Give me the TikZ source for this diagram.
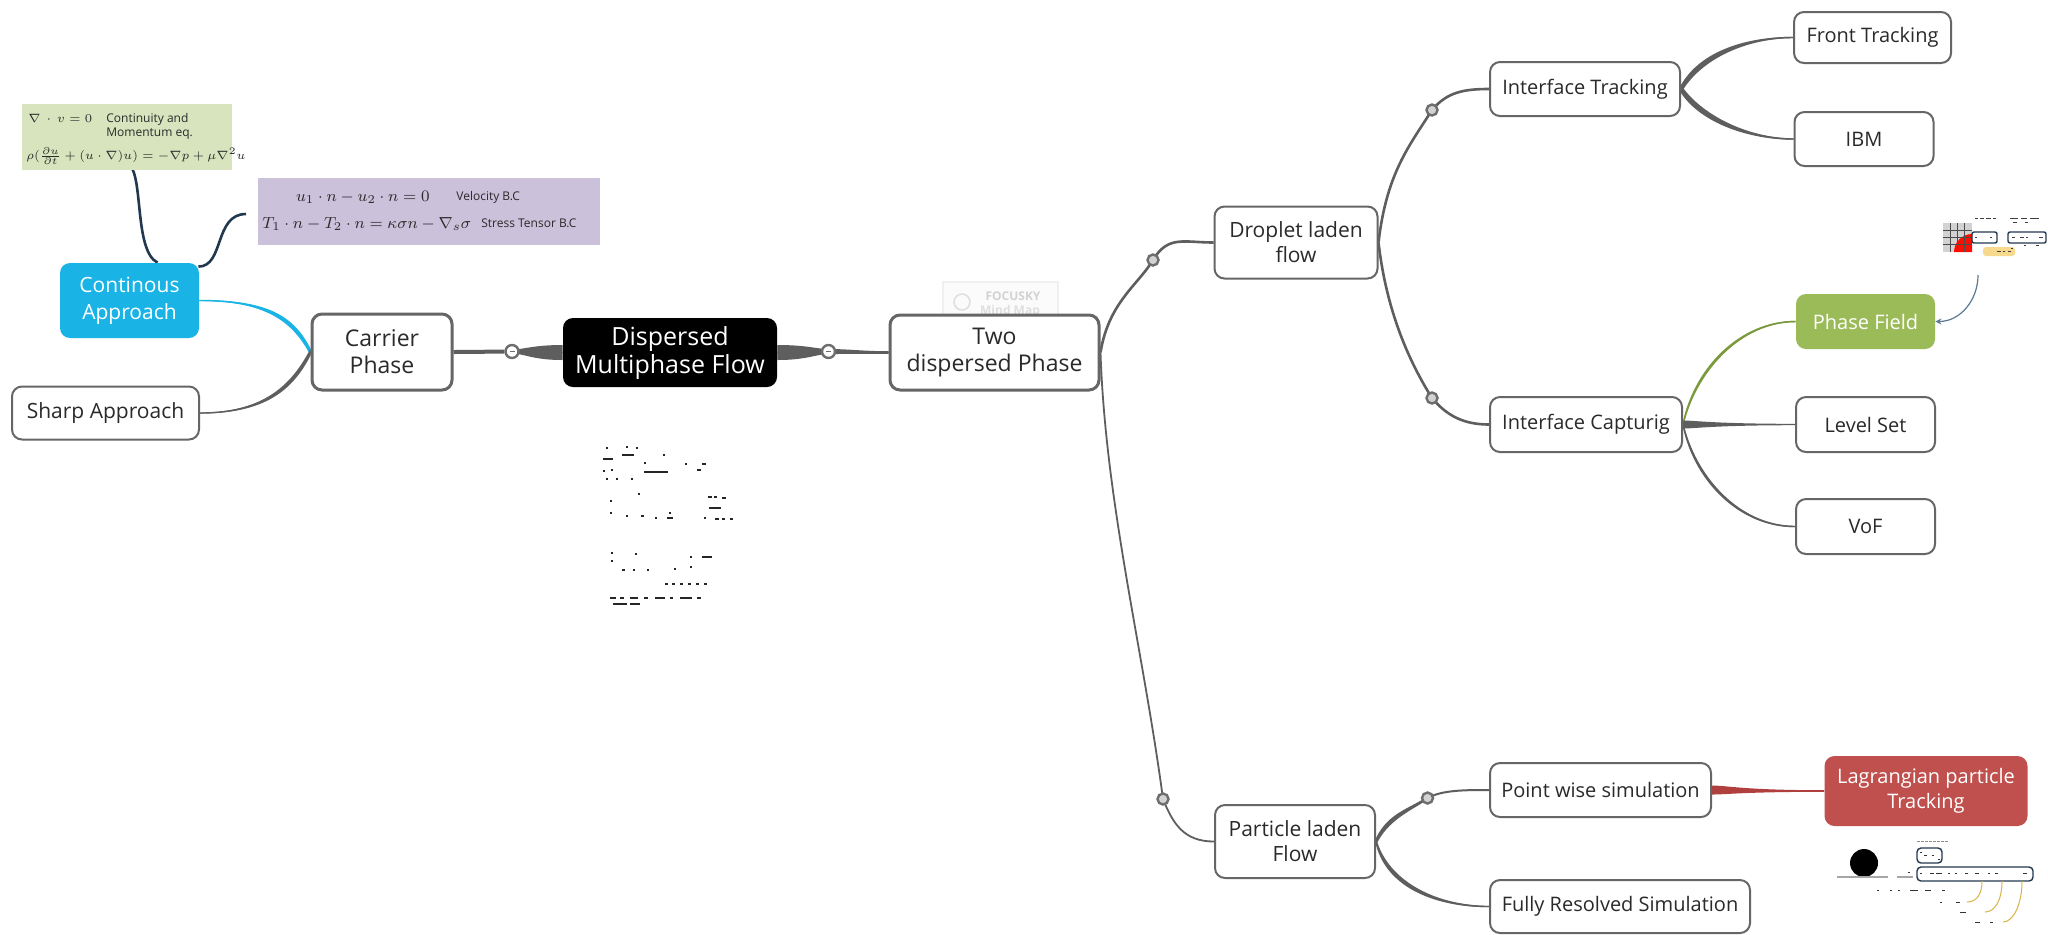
\documentclass[tikz,border=0pt]{standalone}
\usepackage{fontspec}
\setmainfont{Open Sans}
\usetikzlibrary{calc,arrows.meta}
\pgfdeclarelayer{bg}
\pgfsetlayers{bg,main}
\definecolor{ln}{HTML}{5E5E5E}
\definecolor{bd}{HTML}{666666}
\definecolor{knobc}{HTML}{6E6E6E}
\definecolor{cyanC}{HTML}{19B3E6}
\definecolor{greenC}{HTML}{9BBB59}
\definecolor{greenL}{HTML}{7A9A3C}
\definecolor{redC}{HTML}{C0504D}
\definecolor{redL}{HTML}{B0403E}
\definecolor{eqG}{HTML}{D7E4BD}
\definecolor{eqP}{HTML}{CCC1DA}
\definecolor{navy}{HTML}{22384F}
\definecolor{slate}{HTML}{5C7A92}
\definecolor{txt}{HTML}{2A2A2A}
\definecolor{gold}{HTML}{D9B44A}
\definecolor{paleY}{HTML}{F6D98C}
% tapered connector: #1 colour, #2 start, #3 offset of 1st control, #4 offset of 2nd control, #5 end, #6/#7 half widths
\newcommand{\tapr}[7]{%
  \fill[#1] ($#2+(0,#6)$) .. controls ($#2+#3+(0,#6)$) and ($#5+#4+(0,#7)$) .. ($#5+(0,#7)$)
     -- ($#5+(0,-#7)$) .. controls ($#5+#4+(0,-#7)$) and ($#2+#3+(0,-#6)$) .. ($#2+(0,-#6)$) -- cycle;
  \draw[#1, line width=0.7pt] #2 .. controls ($#2+#3$) and ($#5+#4$) .. #5;}
\tikzset{
  wbox/.style={draw=bd, line width=1pt, rounded corners=5pt, fill=white, text=txt, align=center,
    inner sep=1pt, font=\fontsize{10}{12}\selectfont},
  lbox/.style={wbox, font=\fontsize{10.5}{12.5}\selectfont},
  bbox/.style={wbox, line width=1.5pt, font=\fontsize{11.5}{13.5}\selectfont},
  cbox/.style={rounded corners=5pt, text=white, align=center, inner sep=1pt},
  knob/.style={circle, draw=knobc, fill=gray!35, line width=1.2pt, inner sep=0pt, minimum size=5.5pt},
  bigknob/.style={knob, minimum size=6.5pt, fill=white},
  conn/.style={draw=ln, line width=1.3pt},
  note/.style={draw=navy, line width=1.3pt},
  eqtxt/.style={inner sep=0pt, text=txt, font=\fontsize{8}{9}\selectfont},
  eqsm/.style={inner sep=0pt, text=txt, font=\fontsize{6}{7}\selectfont},
  eqlbl/.style={inner sep=0pt, text=txt, font=\fontsize{6}{7}\selectfont, align=left},
}
\begin{document}
\begin{tikzpicture}[x=0.5pt, y=-0.5pt]
\useasboundingbox (0,0) rectangle (2048,934);
\begin{pgfonlayer}{bg}
\fill[white] (0,0) rectangle (2048,934);
\end{pgfonlayer}

% ---------- watermark ----------
\draw[gray!12, fill=gray!3, line width=0.6pt] (943,282) rectangle (1058,324);
\draw[gray!25, line width=0.8pt] (962,302) circle[radius=8];
\node[inner sep=0pt, text=gray!35, font=\bfseries\fontsize{6}{7}\selectfont] at (1013,296) {FOCUSKY};
\node[inner sep=0pt, text=gray!25, font=\bfseries\fontsize{6}{7}\selectfont] at (1010,311) {Mind Map};

% ---------- equation notes ----------
\node[fill=eqG, inner sep=0pt, minimum width=105pt, minimum height=33pt] (eqg) at (127,137) {};
\node[eqsm, anchor=west] (eq1) at (28,118) {$\nabla\mkern3mu\cdot\mkern3mu v=0$};
\node[eqlbl, anchor=west] (eq1l) at (106,126) {Continuity and\\Momentum eq.};
\node[eqsm, anchor=west] (eq2) at (26,156) {$\rho(\frac{\partial u}{\partial t}+(u\cdot\nabla)u)=-\nabla p+\mu\nabla^2 u$};

\node[fill=eqP, inner sep=0pt, minimum width=171pt, minimum height=33.5pt] (eqp) at (429,211.5) {};
\node[eqtxt, anchor=east] (bc1) at (430,197) {$u_1\cdot n-u_2\cdot n=0$};
\node[eqlbl, anchor=west] (bc1l) at (456,197) {Velocity B.C};
\node[eqtxt, anchor=west] (bc2) at (262,224) {$T_1\cdot n-T_2\cdot n=\kappa\sigma n-\nabla_s\sigma$};
\node[eqlbl, anchor=west] (bc2l) at (481,223) {Stress Tensor B.C};

% ---------- nodes ----------
\node[cbox, fill=cyanC, minimum width=69.5pt, minimum height=37.5pt, font=\fontsize{10.5}{13.5}\selectfont] (ca) at (129.5,300.5) {Continous\\Approach};
\node[lbox, minimum width=93.5pt, minimum height=26.5pt] (sa) at (105.5,413) {Sharp Approach};
\node[bbox, minimum width=70pt, minimum height=38pt] (cp) at (382,352) {Carrier\\Phase};
\node[cbox, fill=black, minimum width=107pt, minimum height=34.5pt, font=\fontsize{12.5}{14}\selectfont] (dm) at (670,352.5) {Dispersed\\Multiphase Flow};
\node[bbox, minimum width=104.5pt, minimum height=37.5pt] (td) at (994.5,352.5) {Two\\dispersed Phase};
\node[lbox, minimum width=81.5pt, minimum height=36pt] (dl) at (1296,242.5) {Droplet laden\\flow};
\node[wbox, minimum width=95pt, minimum height=27pt] (it) at (1585,89) {Interface Tracking};
\node[wbox, minimum width=96pt, minimum height=27.5pt] (ic) at (1586,424.5) {Interface Capturig};
\node[wbox, minimum width=78.5pt, minimum height=25.5pt] (ft) at (1872.5,37.5) {Front Tracking};
\node[wbox, minimum width=69.5pt, minimum height=27pt] (ib) at (1864,139) {IBM};
\node[cbox, fill=greenC, minimum width=69.5pt, minimum height=27.5pt, font=\fontsize{10}{12}\selectfont] (pf) at (1865.5,321.5) {Phase Field};
\node[wbox, minimum width=69.5pt, minimum height=27.5pt] (ls) at (1865.5,424.5) {Level Set};
\node[wbox, minimum width=69.5pt, minimum height=27.5pt] (vf) at (1865.5,526.5) {VoF};
\node[lbox, minimum width=80pt, minimum height=36.5pt] (pl) at (1295,841.5) {Particle laden\\Flow};
\node[wbox, minimum width=110.5pt, minimum height=27pt] (pw) at (1600.5,790) {Point wise simulation};
\node[wbox, minimum width=130pt, minimum height=26.5pt] (fr) at (1620,906.5) {Fully Resolved Simulation};
\node[cbox, fill=redC, minimum width=101.5pt, minimum height=35pt, font=\fontsize{10}{12.5}\selectfont] (lg) at (1926,791) {Lagrangian particle\\Tracking};

% collapse knobs
\node[bigknob] (m1) at (512,351.5) {};
\node[bigknob] (m2) at (828.5,351.5) {};
\node[knob] (c1) at (1153,260) {};
\node[knob] (c2) at (1163,799) {};
\node[knob] (c3) at (1432,110) {};
\node[knob] (c4) at (1432,398) {};
\node[knob] (c5) at (1427.5,798) {};
\foreach \k in {m1,m2} \draw[knobc, line width=0.5pt] ($(\k)+(-2.5,0)$) -- ($(\k)+(2.5,0)$);

% free ends of the note connectors and picture thumbnails
\coordinate (eqend) at (128,164);
\coordinate (bcend) at (246,214);
\coordinate (pfimg) at (1978,275);

% ---------- connectors ----------
\begin{pgfonlayer}{bg}
\draw[ln, line width=2pt] (cp.east) -- (m1);
\tapr{ln}{(dm.west)}{(-30,0)}{(12,0)}{(m1)}{7.5}{2}
\tapr{ln}{(dm.east)}{(30,0)}{(-12,0)}{(m2)}{7.5}{2.5}
\tapr{ln}{(m2)}{(20,0)}{(-25,0)}{(td.west)}{2.5}{1.3}

\draw[conn] (td.east) .. controls +(8,-50) and +(-15,25) .. (c1.center) .. controls +(15,-25) and +(-30,0) .. (dl.west);
\draw[conn, line width=0.9pt] (td.east) .. controls +(5,150) and +(-20,-150) .. (c2.center) .. controls +(10,25) and +(-30,0) .. (pl.west);

\draw[conn] (dl.east) .. controls +(8,-70) and +(-22,35) .. (c3.center) .. controls +(15,-18) and +(-25,0) .. (it.west);
\draw[conn] (dl.east) .. controls +(8,70) and +(-22,-35) .. (c4.center) .. controls +(15,18) and +(-25,0) .. (ic.west);

\tapr{ln}{(it.east)}{(20,-35)}{(-45,0)}{(ft.west)}{4}{0.7}
\tapr{ln}{(it.east)}{(20,30)}{(-45,0)}{(ib.west)}{4}{0.7}

\tapr{greenL}{(ic.east)}{(12,-55)}{(-55,0)}{(pf.west)}{3}{0.7}
\tapr{ln}{(ic.east)}{(12,0)}{(-80,0)}{(ls.west)}{4}{0.7}
\tapr{ln}{(ic.east)}{(12,55)}{(-55,0)}{(vf.west)}{3}{0.7}

\tapr{ln}{(pl.east)}{(12,-25)}{(-18,12)}{(c5)}{3.5}{1.5}
\draw[conn, line width=1pt] (c5.center) .. controls +(15,-8) and +(-25,0) .. (pw.west);
\tapr{ln}{(pl.east)}{(12,45)}{(-50,0)}{(fr.west)}{3.5}{0.7}

\tapr{redL}{(pw.east)}{(15,0)}{(-80,0)}{(lg.west)}{4.5}{0.8}

\tapr{cyanC}{(cp.west)}{(-18,-35)}{(65,0)}{(ca.east)}{3.5}{0.5}
\tapr{ln}{(cp.west)}{(-18,35)}{(65,0)}{(sa.east)}{3.5}{0.5}

\draw[note] ($(ca.north)+(28,0)$) .. controls +(-24,-12) and +(16,8) .. (eqend);
\draw[note] ($(ca.north east)+(-1,4)$) .. controls +(26,0) and +(-32,0) .. (bcend);
\end{pgfonlayer}

% ---------- thumbnail near Phase Field ----------
\fill[gray!35] (1943,223) rectangle (1972,252);
\fill[red!90!orange] (1972,252) -- (1954,252) arc[start angle=180, end angle=270, radius=18] -- cycle;
\foreach \g in {1950,1957,1964} \draw[black!70, line width=0.35pt] (\g,223) -- (\g,252);
\foreach \g in {230,237,244} \draw[black!70, line width=0.35pt] (1943,\g) -- (1972,\g);
\draw[navy, line width=0.7pt, rounded corners=1pt] (1972,232) rectangle (1997,243);
\draw[navy, line width=0.7pt, rounded corners=1pt] (2008,232) rectangle (2046,243);
\fill[paleY, rounded corners=1.5pt] (1983,247) rectangle (2015,256);
\foreach \x/\y/\w in {1975/218/3,1980/218/4,1986/218/5,1993/218/3,2010/218/8,2021/218/6,2030/218/9,2013/222/4,2025/222/3,
  1975/237/2,1990/237/2,2012/237/3,2020/237/4,2026/237/2,2039/237/4,2011/248/1.5,1997/251/4,2003/251/2,2008/251/3,2024/245/2,2036/245/3}
  \fill[black!75] (\x,\y) rectangle ++(\w,1.4);
\draw[slate, line width=0.6pt, -{Stealth[length=3pt,width=3pt]}] (pfimg) .. controls +(0,25) and +(25,0) .. (pf.east);

% ---------- thumbnail below Lagrangian particle Tracking ----------
\fill[black] (1864,863) circle[radius=14];
\draw[gray!70, line width=0.8pt] (1837,877) -- (1888,877);
\draw[gray!70, line width=0.8pt] (1897,877) -- (1913,877);
\draw[navy, line width=0.7pt, rounded corners=2pt] (1917,848) rectangle (1942,863);
\draw[navy, line width=0.7pt, rounded corners=2pt] (1917,867) rectangle (2033,881);
\draw[gold, line width=0.5pt] (1982,881) .. controls (1982,895) and (1976,902) .. (1967,902);
\draw[gold, line width=0.5pt] (2002,881) .. controls (2002,900) and (1995,912) .. (1985,912);
\draw[gold, line width=0.5pt] (2022,881) .. controls (2022,905) and (2013,922) .. (2003,922);
\foreach \x in {1917,1921,...,1945} \fill[black!45] (\x,841) rectangle ++(2.5,1.2);
\foreach \x/\y/\w in {1920/852/2,1924/855/3,1932/855/2,1938/859/2,1908/872/2,1920/873/2,1930/873/4,1936/873/6,1948/873/2,
  1955/873/2,1965/873/3,1975/873/4,1988/873/2,1995/873/3,2023/873/4,1877/890/2,1890/890/2,1898/890/1.5,1910/890/8,1925/890/6,1942/890/3,
  1940/902/2,1956/902/4,1960/912/6,1975/922/5,1990/922/3}
  \fill[black!80] (\x,\y) rectangle ++(\w,1.4);

% ---------- thumbnail below Dispersed Multiphase Flow ----------
\foreach \x/\y/\w in {606/447/2,626/446/2,636/447/2,603/458/10,622/454/12,663/454/2,644/462/2,685/463/2,702/463/4,
  603/470/2,611/469/2,644/471/24,697/469/4,606/478/2,616/478/1.5,631/478/1.5,638/493/2,708/496/4,714/496/3,722/497/4,709/507/12,
  610/500/2,610/512/2,626/515/2,641/515/3,655/517/2,669/512/2,667/517/6,704/517/2,715/518/4,722/518/3,730/518/3,
  611/552/2,635/553/2,690/556/2,702/556/10,611/560/2,622/569/3,633/569/1.5,647/569/2,674/568/2,690/566/2,
  665/583/3,672/583/3,680/583/3,688/583/3,696/583/3,704/583/3,
  610/597/6,620/597/4,630/597/8,644/597/4,655/597/10,670/597/3,680/597/12,697/597/4,613/603/14,630/603/10}
  \fill[black!85] (\x,\y) rectangle ++(\w,1.6);
\end{tikzpicture}
\end{document}
